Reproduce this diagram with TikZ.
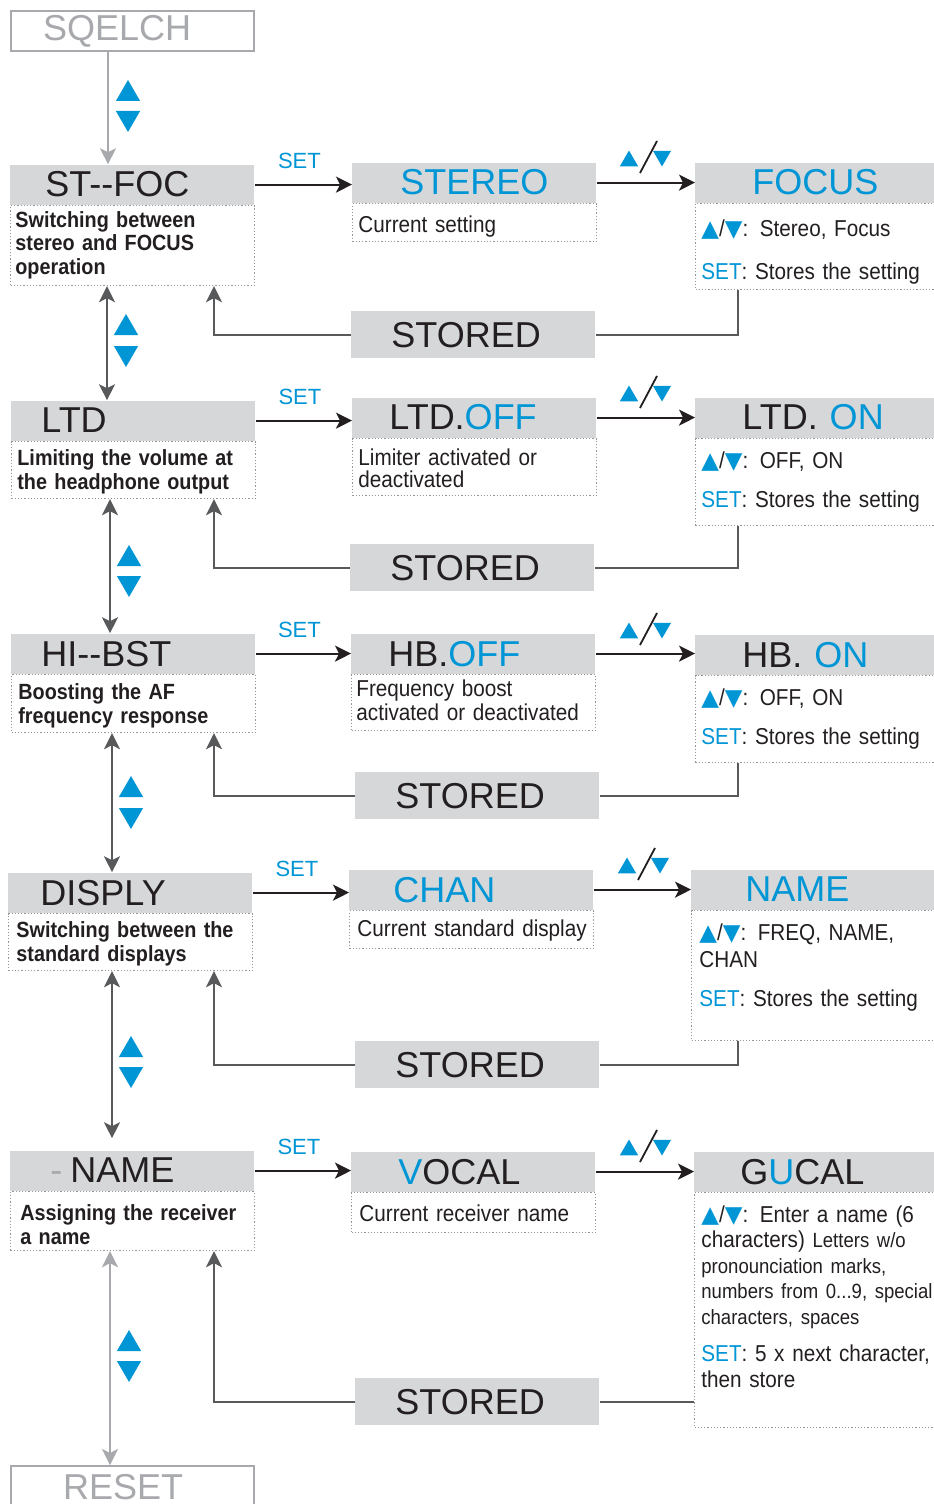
\documentclass[tikz,border=0pt]{standalone}
\usepackage{fontspec}
\setmainfont{Liberation Sans}
\newfontfamily\condfont[FakeStretch=0.9]{Liberation Sans}
\newfontfamily\symfont{DejaVu Sans}
\usepackage{tikz}
\usetikzlibrary{
  arrows.meta,
  positioning,
  shapes.geometric
}
\definecolor{keyblue}{RGB}{0,150,214}
\definecolor{panel}{RGB}{214,215,217}
\definecolor{wire}{RGB}{88,89,91}
\definecolor{faded}{RGB}{167,169,172}
\definecolor{dots}{RGB}{150,150,150}
\definecolor{ink}{RGB}{35,31,32}
\newcommand{\updown}{{\symfont\color{keyblue}▲}/{\symfont\color{keyblue}▼}}
\newcommand{\setkey}{{\color{keyblue}SET}}

\begin{document}
\begin{tikzpicture}[
  x=0.5pt,y=-0.5pt,
  head/.style={fill=panel,minimum height=20pt,inner ysep=0pt,anchor=south west,text=ink,font=\fontsize{18}{20}\selectfont},
  lefthead/.style={head,inner xsep=15pt,text width=92pt,align=left},
  midhead/.style={head,inner xsep=18.5pt,text width=85pt,align=left},
  righthead/.style={head,inner xsep=23.5pt,text width=73pt,align=left},
  widehead/.style={head,inner xsep=0pt,text width=122pt,align=center},
  desc/.style={draw=dots,densely dotted,line width=0.6pt,anchor=north west,inner sep=0pt},
  note/.style={anchor=base west,inner sep=0pt,text width=118pt,align=left,text=ink,font=\condfont\fontsize{11.5}{12}\selectfont},
  boldnote/.style={note,font=\condfont\bfseries\fontsize{11}{12}\selectfont},
  stored/.style={fill=panel,anchor=north west,minimum height=23.5pt,inner ysep=0pt,inner xsep=20pt,text width=82pt,align=left,text=ink,font=\fontsize{18}{20}\selectfont},
  ghost/.style={draw=faded,line width=1.2pt,anchor=north west,minimum height=20pt,inner ysep=0pt,text=faded,align=left,font=\fontsize{18}{20}\selectfont},
  uptri/.style={regular polygon,regular polygon sides=3,fill=keyblue,inner sep=0pt,minimum size=14pt},
  downtri/.style={uptri,shape border rotate=180},
  minitri/.style={uptri,minimum size=10.5pt},
  minidown/.style={downtri,minimum size=10.5pt},
  setarr/.style={-{Stealth[length=8pt,width=8pt,inset=2pt]},line width=1pt,draw=ink},
  wireline/.style={line width=0.9pt,draw=wire},
  backarr/.style={wireline,-{Stealth[length=8pt,width=8pt,inset=2pt]}},
  navarr/.style={wireline,{Stealth[length=8pt,width=8pt,inset=2pt]}-{Stealth[length=8pt,width=8pt,inset=2pt]}},
  fadearr/.style={navarr,draw=faded},
  fadedown/.style={backarr,draw=faded},
  setlbl/.style={text=keyblue,font=\fontsize{11}{11}\selectfont,inner sep=0pt,above=7.5pt,xshift=-2pt},
  slash/.style={line width=0.9pt,draw=ink}
]
\path[use as bounding box,fill=white] (0,0) rectangle (933,1504);

% squelch entry
\node[ghost,inner xsep=16pt,text width=89.5pt] (sqelch) at (10,10) {SQELCH};
\coordinate (sq-foot) at ([xshift=49pt]sqelch.south west);
\node[uptri] (up-a) at (128,94) {};
\node[downtri] (dn-a) at (128,118) {};

% row 1: ST--FOC
\node[desc,minimum width=122pt,minimum height=40pt] (stfoc-d) at (10,205) {};
\node[lefthead,inner xsep=17.5pt,text width=87pt] (stfoc) at (stfoc-d.north west) {ST-{}-FOC};
\node[boldnote] (stfoc-t) at (15,227) {Switching between\\stereo and FOCUS\\operation};
\node[desc,minimum width=122pt,minimum height=19pt] (stereo-d) at (352,203) {};
\node[widehead,text=keyblue] (stereo) at (stereo-d.north west) {STEREO};
\node[note] (stereo-t) at (358,232) {Current setting};
\node[desc,minimum width=120pt,minimum height=43pt] (focus-d) at (695,203) {};
\node[widehead,text width=120pt,text=keyblue] (focus) at (focus-d.north west) {FOCUS};
\node[note] (focus-t) at (701,236) {\updown:\ \,Stereo, Focus\\[9.5pt]\setkey: Stores the setting};
\node[stored] (stored1) at (351,311) {STORED};
\draw[fadedown] (sq-foot) -- (sq-foot |- stfoc.north);
\draw[setarr] (stfoc.east) -- (stfoc.east -| stereo.west) node[setlbl,midway] (set1) {SET};
\draw[setarr] (stereo.east) -- (stereo.east -| focus.west);
\node[minitri] (up1) at (629,161) {};
\node[minidown] (dn1) at (662,156) {};
\draw[slash] (640,173) -- (657,141);
\draw[wireline] ([xshift=21.5pt]focus-d.south west) |- (stored1.east);
\draw[backarr] (stored1.west) -| ([xshift=102pt]stfoc-d.south west);
\coordinate (foc-foot) at ([xshift=48.5pt]stfoc-d.south west);
\node[uptri] (up-b) at (126,328) {};
\node[downtri] (dn-b) at (126,353) {};

% row 2: LTD
\node[desc,minimum width=122pt,minimum height=28.5pt] (ltd-d) at (11,441) {};
\node[lefthead] (ltd) at (ltd-d.north west) {LTD};
\node[boldnote] (ltd-t) at (17,465) {Limiting the volume at\\the headphone output};
\node[desc,minimum width=122pt,minimum height=28.5pt] (ltdoff-d) at (352,438) {};
\node[midhead] (ltdoff) at (ltdoff-d.north west) {LTD.{\color{keyblue}OFF}};
\node[note,font=\condfont\fontsize{11.5}{11}\selectfont] (ltdoff-t) at (358,465) {Limiter activated or\\deactivated};
\node[desc,minimum width=120pt,minimum height=43.5pt] (ltdon-d) at (695,438) {};
\node[righthead] (ltdon) at (ltdon-d.north west) {LTD. {\color{keyblue}ON}};
\node[note] (ltdon-t) at (701,468) {\updown: OFF, ON\\[7.5pt]\setkey: Stores the setting};
\node[stored] (stored2) at (350,544) {STORED};
\draw[navarr] (foc-foot) -- (foc-foot |- ltd.north);
\draw[setarr] (ltd.east) -- (ltd.east -| ltdoff.west) node[setlbl,midway] (set2) {SET};
\draw[setarr] (ltdoff.east) -- (ltdoff.east -| ltdon.west);
\node[minitri] (up2) at (629,396) {};
\node[minidown] (dn2) at (662,391) {};
\draw[slash] (640,408) -- (657,376);
\draw[wireline] ([xshift=21.5pt]ltdon-d.south west) |- (stored2.east);
\draw[backarr] (stored2.west) -| ([xshift=101.5pt]ltd-d.south west);
\coordinate (ltd-foot) at ([xshift=49.5pt]ltd-d.south west);
\node[uptri] (up-c) at (129,559) {};
\node[downtri] (dn-c) at (129,583) {};

% row 3: HI--BST
\node[desc,minimum width=122pt,minimum height=29pt] (hibst-d) at (11,674) {};
\node[lefthead] (hibst) at (hibst-d.north west) {HI-{}-BST};
\node[boldnote] (hibst-t) at (18,699) {Boosting the AF\\frequency response};
\node[desc,minimum width=122pt,minimum height=28pt] (hboff-d) at (351,674) {};
\node[midhead] (hboff) at (hboff-d.north west) {HB.{\color{keyblue}OFF}};
\node[note] (hboff-t) at (356,696) {Frequency boost\\activated or deactivated};
\node[desc,minimum width=120pt,minimum height=43.5pt] (hbon-d) at (695,675) {};
\node[righthead] (hbon) at (hbon-d.north west) {HB. {\color{keyblue}ON}};
\node[note] (hbon-t) at (701,705) {\updown: OFF, ON\\[7.5pt]\setkey: Stores the setting};
\node[stored] (stored3) at (355,772) {STORED};
\draw[navarr] (ltd-foot) -- (ltd-foot |- hibst.north);
\draw[setarr] (hibst.east) -- (hibst.east -| hboff.west) node[setlbl,midway] (set3) {SET};
\draw[setarr] (hboff.east) -- (hboff.east -| hbon.west);
\node[minitri] (up3) at (629,633) {};
\node[minidown] (dn3) at (662,628) {};
\draw[slash] (640,645) -- (657,613);
\draw[wireline] ([xshift=21.5pt]hbon-d.south west) |- (stored3.east);
\draw[backarr] (stored3.west) -| ([xshift=101.5pt]hibst-d.south west);
\coordinate (bst-foot) at ([xshift=50.5pt]hibst-d.south west);
\node[uptri] (up-d) at (131,790) {};
\node[downtri] (dn-d) at (131,815) {};

% row 4: DISPLY
\node[desc,minimum width=122pt,minimum height=28.5pt] (disply-d) at (8,913) {};
\node[lefthead,inner xsep=16pt,text width=90pt] (disply) at (disply-d.north west) {DISPLY};
\node[boldnote] (disply-t) at (16,937) {Switching between the\\standard displays};
\node[desc,minimum width=122pt,minimum height=19pt] (chan-d) at (349,910) {};
\node[midhead,inner xsep=22pt,text width=78pt,text=keyblue] (chan) at (chan-d.north west) {CHAN};
\node[note] (chan-t) at (357,936) {Current standard display};
\node[desc,minimum width=122pt,minimum height=65pt] (nameR-d) at (691,910) {};
\node[righthead,inner xsep=27pt,text width=68pt,text=keyblue] (nameR) at (nameR-d.north west) {NAME};
\node[note,font=\condfont\fontsize{11.5}{13.5}\selectfont] (nameR-t) at (699,940) {\updown:\ \,FREQ, NAME,\\CHAN\\[6pt]\setkey: Stores the setting};
\node[stored] (stored4) at (355,1041) {STORED};
\draw[navarr] (bst-foot) -- (bst-foot |- disply.north);
\draw[setarr] (disply.east) -- (disply.east -| chan.west) node[setlbl,midway] (set4) {SET};
\draw[setarr] (chan.east) -- (chan.east -| nameR.west);
\node[minitri] (up4) at (627,868) {};
\node[minidown] (dn4) at (660,863) {};
\draw[slash] (638,880) -- (655,848);
\draw[wireline] ([xshift=23.5pt]nameR-d.south west) |- (stored4.east);
\draw[backarr] (stored4.west) -| ([xshift=103pt]disply-d.south west);
\coordinate (dsp-foot) at ([xshift=52pt]disply-d.south west);
\node[uptri] (up-e) at (131,1050) {};
\node[downtri] (dn-e) at (131,1074) {};

% row 5: NAME
\node[desc,minimum width=122pt,minimum height=29.5pt] (name-d) at (10,1191) {};
\node[lefthead,inner xsep=20pt,text width=82pt] (name) at (name-d.north west) {{\color{faded}-}\hspace{4pt}NAME};
\node[boldnote] (name-t) at (20,1220) {Assigning the receiver\\a name};
\node[desc,minimum width=122pt,minimum height=20pt] (vocal-d) at (351,1192) {};
\node[midhead,inner xsep=23.5pt,text width=75pt] (vocal) at (vocal-d.north west) {{\color{keyblue}V}OCAL};
\node[note] (vocal-t) at (359,1221) {Current receiver name};
\node[desc,minimum width=120pt,minimum height=117.5pt] (gucal-d) at (694,1192) {};
\node[righthead,inner xsep=23pt,text width=74pt] (gucal) at (gucal-d.north west) {G{\color{keyblue}U}CAL};
\node[note,font=\condfont\fontsize{11.5}{12.8}\selectfont] (gucal-t) at (701,1222) {\updown:\ \,Enter a name (6\\characters) {\fontsize{10.3}{12.8}\selectfont Letters w/o\\pronounciation marks,\\numbers from 0...9, special\\characters, spaces}\\[5.7pt]\setkey: 5 x next character,\\then store};
\node[stored] (stored5) at (355,1378) {STORED};
\draw[navarr,shorten >=6pt] (dsp-foot) -- (dsp-foot |- name.north);
\draw[setarr] (name.east) -- (name.east -| vocal.west) node[setlbl,midway] (set5) {SET};
\draw[setarr] (vocal.east) -- (vocal.east -| gucal.west);
\node[minitri] (up5) at (629,1150) {};
\node[minidown] (dn5) at (662,1145) {};
\draw[slash] (640,1162) -- (657,1130);
\draw[wireline] (stored5.east) -- (stored5.east -| gucal-d.west);
\draw[backarr] (stored5.west) -| ([xshift=102pt]name-d.south west);
\coordinate (nam-foot) at ([xshift=50pt]name-d.south west);
\node[uptri] (up-f) at (129,1344) {};
\node[downtri] (dn-f) at (129,1368) {};

% reset exit
\node[ghost,inner xsep=26pt,text width=69.5pt,minimum height=21pt] (reset) at (10,1465) {RESET};
\draw[fadearr] (nam-foot) -- (nam-foot |- reset.north);
\end{tikzpicture}
\end{document}
